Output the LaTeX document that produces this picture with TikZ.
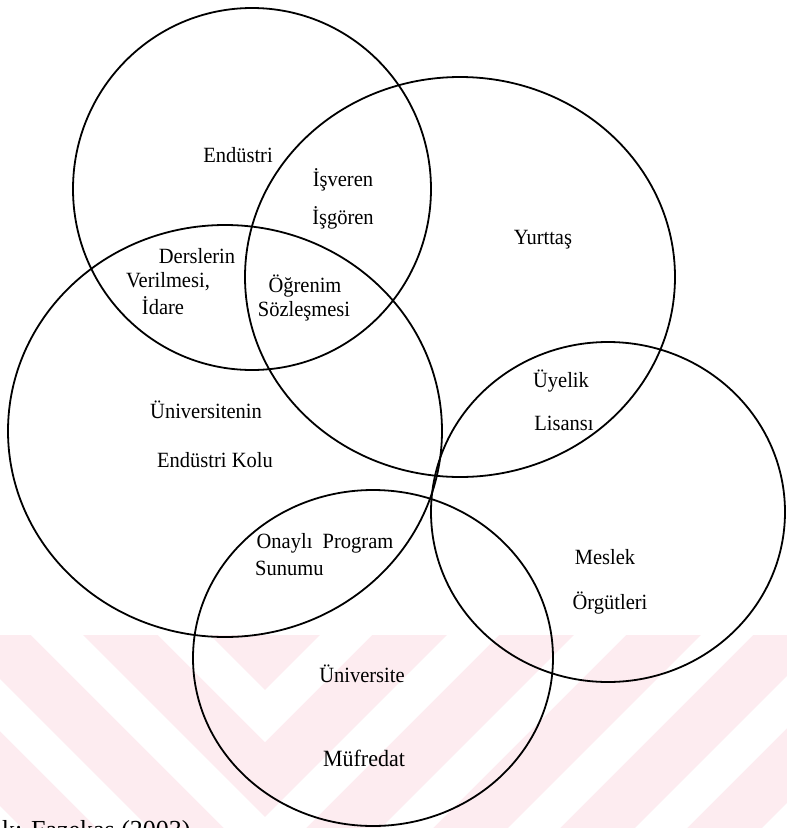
\documentclass[tikz,border=0pt]{standalone}
\usepackage{fontspec}
\usepackage{graphicx}
\setmainfont{Liberation Serif}
\definecolor{wmpink}{HTML}{FDECF0}
\newcommand{\tallt}[1]{\scalebox{1}[1.06]{#1}}
\begin{document}
\begin{tikzpicture}[x=1pt,y=-1pt,
  lbl/.style={font=\fontsize{20.5}{22}\selectfont, inner sep=0pt},
  big/.style={font=\fontsize{22}{24}\selectfont, inner sep=0pt},
  venn/.style={draw=black, line width=1.8pt}]
\useasboundingbox (0,0) rectangle (787,828);
\fill[white] (0,0) rectangle (787,828);
% faint watermark chevrons
\begin{scope}
\clip (0,635) rectangle (787,828);
\fill[wmpink] (0,635) rectangle (787,828);
\foreach \a in {690,817,944,1071,1198,1325}{
  \pgfmathsetmacro{\b}{\a+52}
  \fill[white] ({265-(\b-635)},635) -- (265,\b) -- ({265+\b-635},635) --
    ({265+\a-635},635) -- (265,\a) -- ({265-(\a-635)},635) -- cycle;
}
\end{scope}
\begin{scope}
\clip (0,0) rectangle (787,828);
\node[anchor=base west, font=\fontsize{26}{28}\selectfont, inner sep=0pt] (src) at (2,838) {k: Fazekas (2003)};
\end{scope}
% shapes
\draw[venn] (252,189) ellipse [x radius=179, y radius=181];
\draw[venn] (460,277) ellipse [x radius=215, y radius=200];
\draw[venn] (225,431) ellipse [x radius=217, y radius=206];
\draw[venn] (608,512) ellipse [x radius=177, y radius=170];
\draw[venn] (373,658) ellipse [x radius=180, y radius=168];
% labels
\node[lbl] (endustri) at (238,155) {\tallt{Endüstri}};
\node[lbl] (isveren) at (343,180) {\tallt{İşveren}};
\node[lbl] (isgoren) at (343,218) {\tallt{İşgören}};
\node[lbl] (derslerin) at (197,256) {\tallt{Derslerin}};
\node[lbl] (verilmesi) at (168,282) {\tallt{Verilmesi,}};
\node[lbl] (idare) at (163,306) {\tallt{İdare}};
\node[lbl] (ogrenim) at (305,286) {\tallt{Öğrenim}};
\node[lbl] (sozlesmesi) at (304,311) {\tallt{Sözleşmesi}};
\node[lbl] (yurttas) at (543,240) {\tallt{Yurttaş}};
\node[lbl] (uyelik) at (561,381) {\tallt{Üyelik}};
\node[lbl] (lisansi) at (564,423) {\tallt{Lisansı}};
\node[lbl] (univen) at (206,410) {\tallt{Üniversitenin}};
\node[lbl] (endkolu) at (215,460) {\tallt{Endüstri Kolu}};
\node[lbl] (onayli) at (325,543) {\tallt{Onaylı\ \ Program}};
\node[lbl, anchor=west] (sunumu) at (255,568) {\tallt{Sunumu}};
\node[lbl] (meslek) at (605,557) {\tallt{Meslek}};
\node[lbl] (orgutleri) at (610,603) {\tallt{Örgütleri}};
\node[lbl] (univ) at (362,674) {\tallt{Üniversite}};
\node[big] (mufredat) at (364,758) {\tallt{Müfredat}};
\end{tikzpicture}
\end{document}
